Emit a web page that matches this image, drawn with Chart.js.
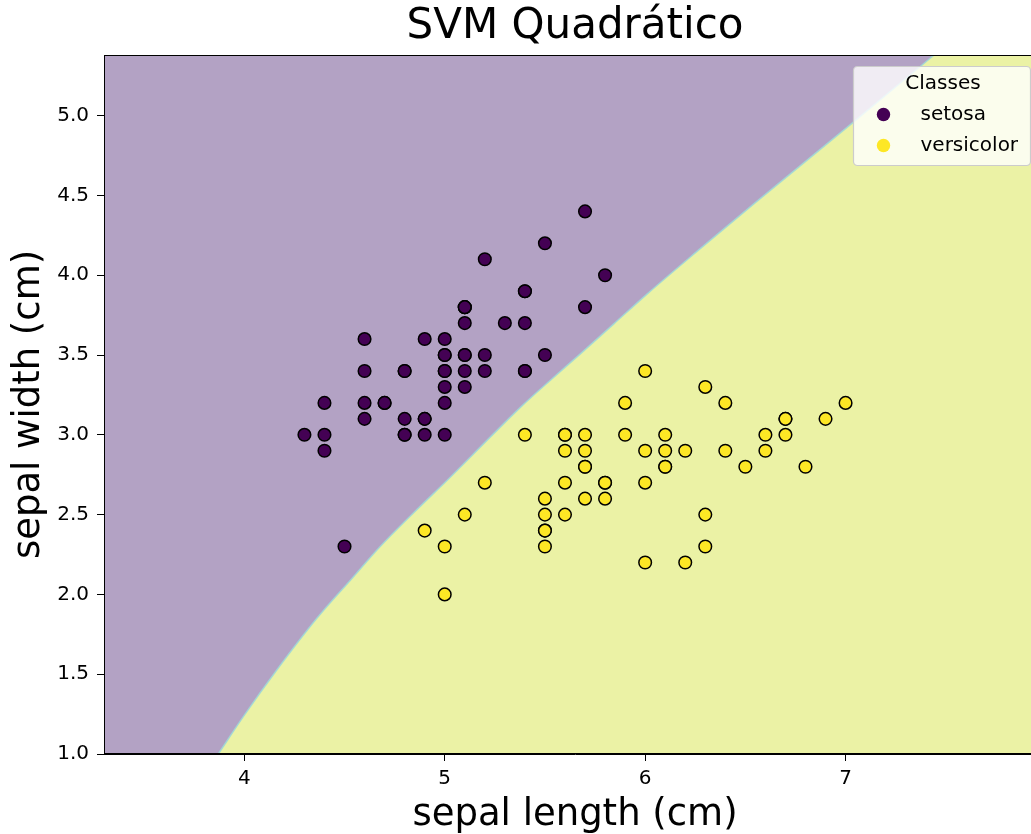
<!DOCTYPE html>
<html>
<head>
<meta charset="utf-8">
<script src="https://cdn.jsdelivr.net/npm/chart.js@4"></script>
<style>
  html, body { margin: 0; background: #fff; overflow: hidden; }
  #wrap { width: 1031px; height: 834px; overflow: hidden; }
</style>
</head>
<body>
<div id="wrap"><canvas id="svm_chart" width="1046" height="834"></canvas></div>
<script>
// iris: sepal length / sepal width, first two classes
const setosaLength = [5.1, 4.9, 4.7, 4.6, 5.0, 5.4, 4.6, 5.0, 4.4, 4.9, 5.4, 4.8, 4.8, 4.3, 5.8, 5.7, 5.4, 5.1, 5.7, 5.1, 5.4, 5.1, 4.6, 5.1, 4.8, 5.0, 5.0, 5.2, 5.2, 4.7, 4.8, 5.4, 5.2, 5.5, 4.9, 5.0, 5.5, 4.9, 4.4, 5.1, 5.0, 4.5, 4.4, 5.0, 5.1, 4.8, 5.1, 4.6, 5.3, 5.0];
const setosaWidth = [3.5, 3.0, 3.2, 3.1, 3.6, 3.9, 3.4, 3.4, 2.9, 3.1, 3.7, 3.4, 3.0, 3.0, 4.0, 4.4, 3.9, 3.5, 3.8, 3.8, 3.4, 3.7, 3.6, 3.3, 3.4, 3.0, 3.4, 3.5, 3.4, 3.2, 3.1, 3.4, 4.1, 4.2, 3.1, 3.2, 3.5, 3.6, 3.0, 3.4, 3.5, 2.3, 3.2, 3.5, 3.8, 3.0, 3.8, 3.2, 3.7, 3.3];
const versicolorLength = [7.0, 6.4, 6.9, 5.5, 6.5, 5.7, 6.3, 4.9, 6.6, 5.2, 5.0, 5.9, 6.0, 6.1, 5.6, 6.7, 5.6, 5.8, 6.2, 5.6, 5.9, 6.1, 6.3, 6.1, 6.4, 6.6, 6.8, 6.7, 6.0, 5.7, 5.5, 5.5, 5.8, 6.0, 5.4, 6.0, 6.7, 6.3, 5.6, 5.5, 5.5, 6.1, 5.8, 5.0, 5.6, 5.7, 5.7, 6.2, 5.1, 5.7];
const versicolorWidth = [3.2, 3.2, 3.1, 2.3, 2.8, 2.8, 3.3, 2.4, 2.9, 2.7, 2.0, 3.0, 2.2, 2.9, 2.9, 3.1, 3.0, 2.7, 2.2, 2.5, 3.2, 2.8, 2.5, 2.8, 2.9, 3.0, 2.8, 3.0, 2.9, 2.6, 2.4, 2.4, 2.7, 2.7, 3.0, 3.4, 3.1, 2.3, 3.0, 2.5, 2.6, 3.0, 2.6, 2.3, 2.7, 3.0, 2.9, 2.9, 2.5, 2.8];

// decision boundary of the quadratic kernel (versicolor region lies below/right)
const boundaryLength = [3.870, 3.995, 4.162, 4.362, 4.537, 4.678, 4.845, 5.020, 5.228, 5.380, 5.530, 5.678, 5.845, 6.012, 6.245, 6.545, 7.030, 7.428, 8.000];
const boundaryWidth = [1.000, 1.234, 1.526, 1.850, 2.100, 2.300, 2.512, 2.725, 2.987, 3.175, 3.345, 3.509, 3.697, 3.885, 4.135, 4.450, 4.950, 5.366, 5.960];

const xTicks = [4, 5, 6, 7];
const yTicks = [1.0, 1.5, 2.0, 2.5, 3.0, 3.5, 4.0, 4.5, 5.0];

const classNames = ['setosa', 'versicolor'];
const classColors = ['#440154', '#fde725'];
const regionColors = ['rgb(179, 162, 196)', 'rgb(235, 242, 165)'];

Chart.defaults.font.family = "'DejaVu Sans', sans-serif";
Chart.defaults.color = '#000';

const toPoints = (xs, ys) => xs.map((x, i) => ({ x, y: ys[i] }));

// purple region behind everything, frame on top
const regionBackground = {
  id: 'regionBackground',
  beforeDraw(chart) {
    const { ctx, chartArea: a } = chart;
    ctx.save();
    ctx.fillStyle = '#fff';
    ctx.fillRect(0, 0, chart.width, chart.height);
    ctx.fillStyle = regionColors[0];
    ctx.fillRect(a.left, a.top, a.right - a.left, a.bottom - a.top);
    ctx.restore();
  },
  afterDatasetsDraw(chart) {
    const { ctx, chartArea: a } = chart;
    ctx.save();
    ctx.strokeStyle = '#000';
    ctx.lineWidth = 1;
    ctx.strokeRect(a.left + 0.5, a.top + 0.5, a.right - a.left - 1, a.bottom - a.top - 1);
    ctx.restore();
  }
};

const classLegend = {
  id: 'classLegend',
  afterDraw(chart) {
    const { ctx, chartArea: a } = chart;
    const w = 177, h = 99;
    const x = a.right - w - 15.5, y = a.top + 11.5;
    ctx.save();
    ctx.beginPath();
    ctx.roundRect(x, y, w, h, 4);
    ctx.fillStyle = 'rgba(255, 255, 255, 0.8)';
    ctx.fill();
    ctx.strokeStyle = '#cccccc';
    ctx.lineWidth = 1.2;
    ctx.stroke();

    ctx.fillStyle = '#000';
    ctx.font = "20px 'DejaVu Sans'";
    ctx.textAlign = 'center';
    ctx.textBaseline = 'middle';
    ctx.fillText('Classes', x + w / 2 + 1, y + 17);
    ctx.textAlign = 'left';
    classNames.forEach((name, i) => {
      const cy = y + 48 + i * 31;
      ctx.beginPath();
      ctx.arc(x + 30, cy, 6.7, 0, Math.PI * 2);
      ctx.fillStyle = classColors[i];
      ctx.fill();
      ctx.fillStyle = '#000';
      ctx.fillText(name, x + 67, cy);
    });
    ctx.restore();
  }
};

const axisStyle = {
  grid: { drawOnChartArea: false, drawTicks: true, tickLength: 7, color: '#000', tickColor: '#000' },
  border: { display: true, color: '#000', width: 1 },
};

new Chart(document.getElementById('svm_chart'), {
  data: {
    datasets: [
      {
        type: 'scatter',
        label: classNames[0],
        data: toPoints(setosaLength, setosaWidth),
        backgroundColor: classColors[0],
        borderColor: '#000',
        borderWidth: 1.5,
        pointRadius: 6.3,
        order: 0,
      },
      {
        type: 'scatter',
        label: classNames[1],
        data: toPoints(versicolorLength, versicolorWidth),
        backgroundColor: classColors[1],
        borderColor: '#000',
        borderWidth: 1.5,
        pointRadius: 6.3,
        order: 1,
      },
      {
        type: 'line',
        label: 'boundary',
        data: toPoints(boundaryLength, boundaryWidth),
        fill: 'start',
        backgroundColor: regionColors[1],
        borderColor: 'rgba(160, 215, 215, 0.9)',
        borderWidth: 1.5,
        pointRadius: 0,
        cubicInterpolationMode: 'monotone',
        clip: 0,
        order: 5,
      },
    ],
  },
  options: {
    responsive: false,
    animation: false,
    layout: { padding: 0, autoPadding: false },
    plugins: {
      legend: { display: false },
      tooltip: { enabled: false },
      title: {
        display: true,
        fullSize: false,
        text: 'SVM Quadrático',
        font: { size: 42, weight: 'normal' },
        color: '#000',
        padding: { top: 2, bottom: 2.6 },
      },
    },
    scales: {
      x: {
        type: 'linear',
        min: 3.3,
        max: 8.0,
        ...axisStyle,
        ticks: { font: { size: 20 }, color: '#000', padding: 6, callback: (v) => String(v) },
        afterBuildTicks: (scale) => { scale.ticks = xTicks.map((value) => ({ value })); },
        afterFit: (scale) => { scale.height = 80; scale.paddingLeft = 0; scale.paddingRight = 0; },
        title: { display: true, text: 'sepal length (cm)', font: { size: 37 }, color: '#000', padding: { top: 0, bottom: -4 } },
      },
      y: {
        type: 'linear',
        min: 1.0,
        max: 5.38,
        ...axisStyle,
        ticks: { font: { size: 20 }, color: '#000', padding: 8, callback: (v) => v.toFixed(1) },
        afterBuildTicks: (scale) => { scale.ticks = yTicks.map((value) => ({ value })); },
        afterFit: (scale) => { scale.width = 104; },
        title: { display: true, text: 'sepal width (cm)', font: { size: 37 }, color: '#000', padding: { top: 7, bottom: 0 } },
      },
    },
  },
  plugins: [regionBackground, classLegend],
});
</script>
</body>
</html>
